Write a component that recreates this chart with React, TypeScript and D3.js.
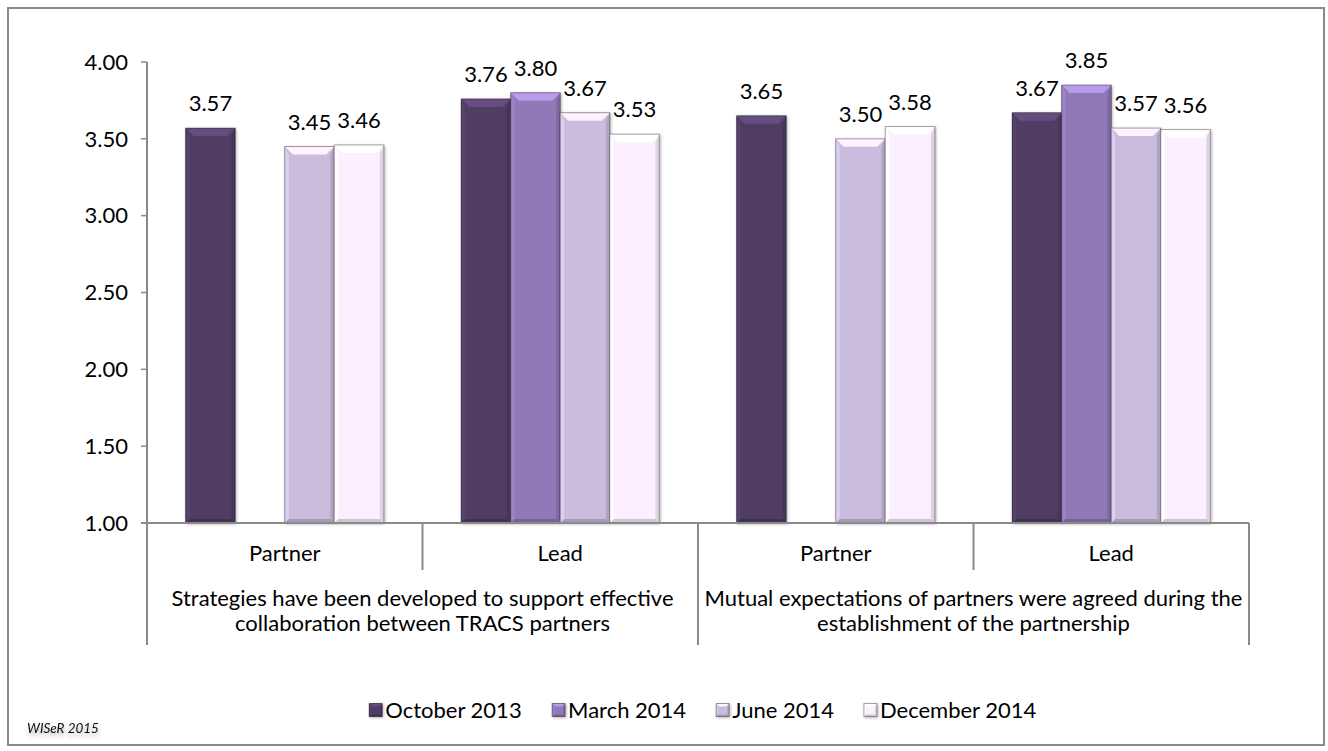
import React from "react";
import * as d3 from "d3";

const categories = ["Partner", "Lead", "Partner", "Lead"];
const superCategories = [
  ["Strategies have been developed to support effective", "collaboration between TRACS partners"],
  ["Mutual expectations of partners were agreed during the", "establishment of the partnership"],
];
const seriesNames = ["October 2013", "March 2014", "June 2014", "December 2014"];
const october = [3.57, 3.76, 3.65, 3.67];
const march = [null, 3.8, null, 3.85];
const june = [3.45, 3.67, 3.5, 3.57];
const december = [3.46, 3.53, 3.58, 3.56];
const seriesColors = ["#4f3d63", "#8f79b6", "#c9bcdc", "#fcefff"];
const yTicks = [1.0, 1.5, 2.0, 2.5, 3.0, 3.5, 4.0];
const footnote = "WISeR 2015";

const FONT = "Lato, 'Noto Sans', sans-serif";
const FS = 22;

const W = 1328;
const H = 751;
const plotLeft = 147;
const plotRight = 1249;
const plotTop = 62;
const plotBottom = 523;

function measure(text: string, size: number, style = "") {
  const c = document.createElement("canvas").getContext("2d");
  if (!c) return text.length * size * 0.5;
  c.font = `${style} ${size}px Lato`;
  return c.measureText(text).width;
}

function BevelBar({ x, y, w, h, color, top = 8, side = 4, bottom = 4 }: any) {
  const c = d3.color(color)!;
  const light = d3.color(color)!.brighter(0.7).formatHex();
  const lighter = d3.color(color)!.brighter(0.25).formatHex();
  const dark = c.darker(0.35).formatHex();
  const darker = c.darker(0.55).formatHex();
  const b = Math.min(top, h / 2);
  return (
    <g filter="url(#shadow)">
      <rect x={x} y={y} width={w} height={h} fill={color} />
      <polygon
        points={`${x},${y} ${x + w},${y} ${x + w - b},${y + b} ${x + b},${y + b}`}
        fill={light}
      />
      <polygon
        points={`${x},${y} ${x + side},${y + b} ${x + side},${y + h - bottom} ${x},${y + h}`}
        fill={lighter}
      />
      <polygon
        points={`${x + w},${y} ${x + w - side},${y + b} ${x + w - side},${y + h - bottom} ${x + w},${y + h}`}
        fill={dark}
      />
      <polygon
        points={`${x},${y + h} ${x + side},${y + h - bottom} ${x + w - side},${y + h - bottom} ${x + w},${y + h}`}
        fill={darker}
      />
      <rect x={x} y={y} width={w} height={h} fill="none" stroke="#000" strokeOpacity={0.35} strokeWidth={1} />
    </g>
  );
}

export default function App() {
  const seriesValues = [october, march, june, december];
  const y = d3.scaleLinear().domain([1, 4]).range([plotBottom, plotTop]);
  const x0 = d3
    .scaleBand<number>()
    .domain(d3.range(categories.length))
    .range([plotLeft, plotRight])
    .paddingInner(0)
    .paddingOuter(0);
  const x1 = d3
    .scaleBand<string>()
    .domain(seriesNames)
    .range([0, x0.bandwidth()])
    .paddingInner(0)
    .paddingOuter(0.78);
  const xSuper = d3
    .scaleBand<number>()
    .domain(d3.range(superCategories.length))
    .range([plotLeft, plotRight]);

  // legend layout
  const mk = 13;
  const legendGap = 30;
  const itemW = seriesNames.map((s) => mk + 3 + measure(s, FS));
  const totalW = d3.sum(itemW) + legendGap * (seriesNames.length - 1);
  const legendCenter = 703;
  const legendY = 710;
  let lx = legendCenter - totalW / 2;
  const legendX = itemW.map((w) => {
    const v = lx;
    lx += w + legendGap;
    return v;
  });

  return (
    <svg
      width={W}
      height={H}
      style={{ position: "absolute", left: 0, top: 0, display: "block" }}
      fontFamily={FONT}
    >
      <defs>
        <filter id="shadow" x="-20%" y="-20%" width="140%" height="140%">
          <feDropShadow dx="1" dy="1" stdDeviation="1.5" floodColor="#000" floodOpacity="0.3" />
        </filter>
        <filter id="txtShadow" x="-20%" y="-50%" width="140%" height="250%">
          <feDropShadow dx="1" dy="3" stdDeviation="2.5" floodColor="#000" floodOpacity="0.35" />
        </filter>
      </defs>
      <rect x={0} y={0} width={W} height={H} fill="#fff" />
      <rect x={8} y={8} width={1316} height={737} fill="#fff" stroke="#8a8a8a" strokeWidth={2} />

      {/* y axis */}
      <line x1={plotLeft} x2={plotLeft} y1={plotTop} y2={645} stroke="#8a8a8a" strokeWidth={2} />
      {yTicks.map((t) => (
        <g key={t}>
          <line x1={plotLeft - 6} x2={plotLeft} y1={y(t)} y2={y(t)} stroke="#8a8a8a" strokeWidth={1.5} />
          <text x={plotLeft - 19} y={y(t)} dy="0.35em" textAnchor="end" fontSize={FS} fill="#000">
            {d3.format(".2f")(t)}
          </text>
        </g>
      ))}

      {/* bars */}
      {categories.map((cat, i) =>
        seriesNames.map((s, j) => {
          const v = seriesValues[j][i];
          if (v == null) return null;
          const bx = (x0(i) as number) + (x1(s) as number);
          const bw = x1.bandwidth();
          const by = y(v);
          return (
            <g key={`${i}-${j}`}>
              <BevelBar x={bx} y={by} w={bw} h={plotBottom - by} color={seriesColors[j]} />
              <text x={bx + bw / 2} y={by - 17} textAnchor="middle" fontSize={FS} fill="#000">
                {d3.format(".2f")(v)}
              </text>
            </g>
          );
        })
      )}

      {/* x axis */}
      <line x1={plotLeft - 6} x2={plotRight} y1={plotBottom} y2={plotBottom} stroke="#8a8a8a" strokeWidth={2} />
      {categories.map((cat, i) => {
        const right = (x0(i) as number) + x0.bandwidth();
        const isSuperEnd = (i + 1) % 2 === 0;
        return (
          <g key={`c${i}`}>
            <line
              x1={right}
              x2={right}
              y1={plotBottom}
              y2={isSuperEnd ? 645 : 570}
              stroke="#8a8a8a"
              strokeWidth={2}
            />
            <text x={(x0(i) as number) + x0.bandwidth() / 2} y={561} textAnchor="middle" fontSize={FS} fill="#000">
              {cat}
            </text>
          </g>
        );
      })}
      {superCategories.map((lines, k) =>
        lines.map((l, li) => (
          <text
            key={`s${k}-${li}`}
            x={(xSuper(k) as number) + xSuper.bandwidth() / 2}
            y={606 + li * 25}
            textAnchor="middle"
            fontSize={FS}
            fill="#000"
          >
            {l}
          </text>
        ))
      )}

      {/* legend */}
      {seriesNames.map((s, j) => (
        <g key={`l${j}`}>
          <BevelBar x={legendX[j]} y={legendY - mk / 2} w={mk} h={mk} color={seriesColors[j]} top={3} side={2} bottom={2} />
          <text x={legendX[j] + mk + 3} y={legendY} dy="0.35em" fontSize={FS} fill="#000">
            {s}
          </text>
        </g>
      ))}

      {/* footnote */}
      <text x={27} y={733} fontSize={13.5} fontStyle="italic" fill="#111" filter="url(#txtShadow)">
        {footnote}
      </text>
    </svg>
  );
}
